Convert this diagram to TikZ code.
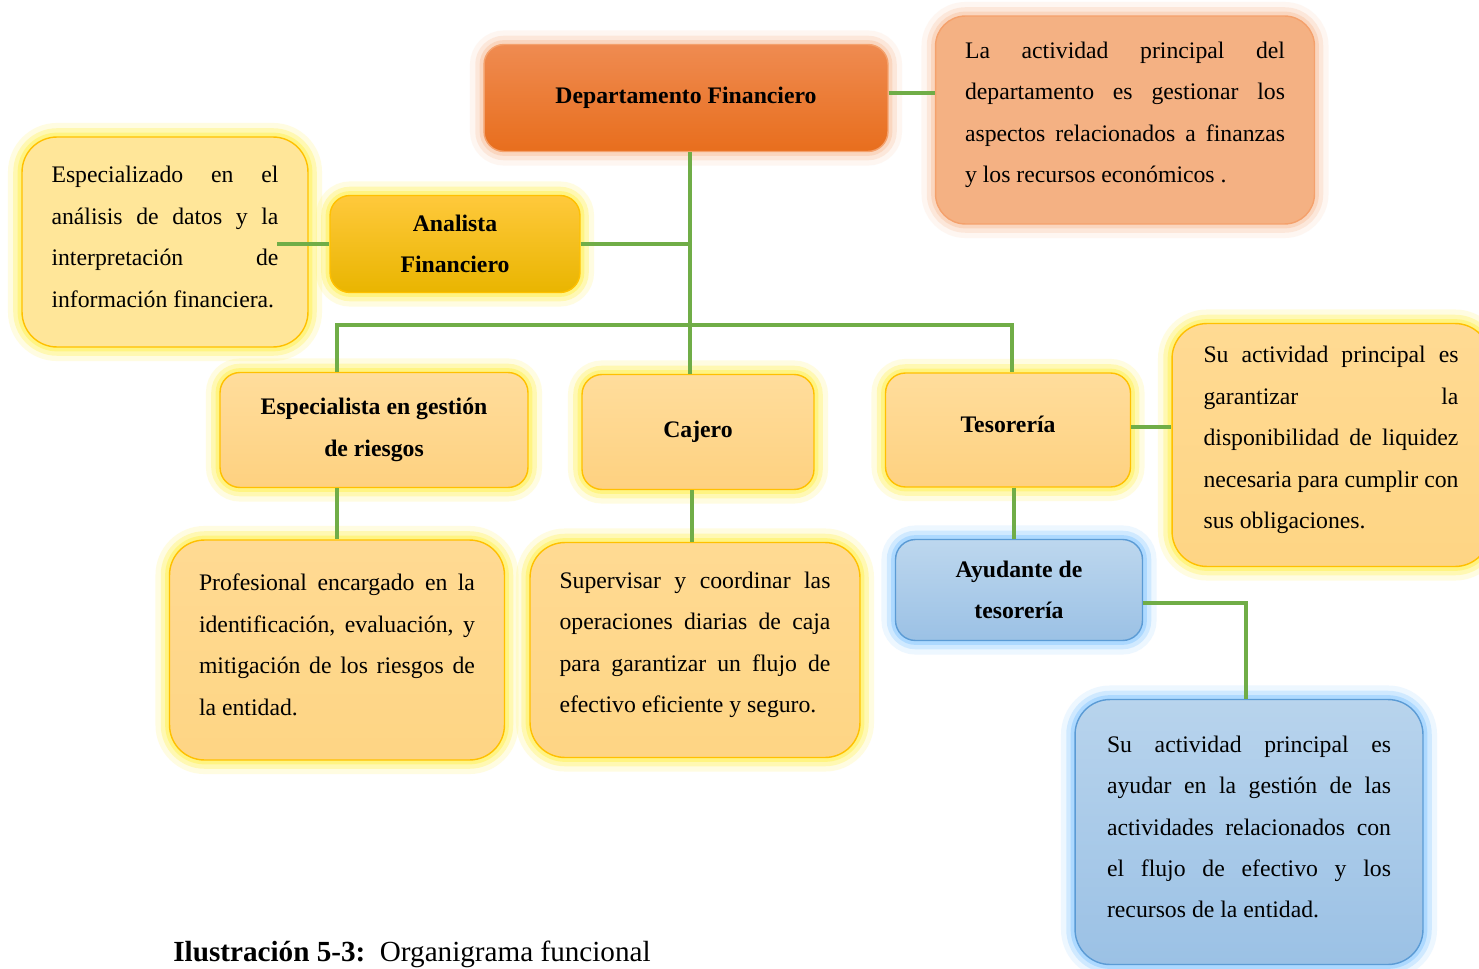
\documentclass[tikz,border=0pt]{standalone}
\usepackage{fontspec}
\setmainfont{Liberation Serif}
\usepackage{tikz}
\usetikzlibrary{positioning}

\newcommand{\letra}{\fontsize{13.5}{23.6}\selectfont}
\newcommand{\finnota}{\par\vspace{0.2cm}}

\definecolor{clrLinea}{HTML}{70AD47}
\definecolor{clrNarArriba}{HTML}{EF8B51}
\definecolor{clrNarAbajo}{HTML}{E86E1D}
\definecolor{clrNarBorde}{HTML}{F4A16C}
\definecolor{clrNarNota}{HTML}{F4B183}
\definecolor{clrNarBrillo}{HTML}{F9C7A6}
\definecolor{clrOroArriba}{HTML}{FFC93C}
\definecolor{clrOroAbajo}{HTML}{E9B500}
\definecolor{clrBorde}{HTML}{FFC000}
\definecolor{clrAmNota}{HTML}{FFE699}
\definecolor{clrAmBrillo}{HTML}{FFF25C}
\definecolor{clrCargoArriba}{HTML}{FFDD9C}
\definecolor{clrCargoAbajo}{HTML}{FED180}
\definecolor{clrNotaArriba}{HTML}{FFDA93}
\definecolor{clrNotaAbajo}{HTML}{FED584}
\definecolor{clrAzArriba}{HTML}{BDD7EE}
\definecolor{clrAzAbajo}{HTML}{9BC1E5}
\definecolor{clrAzBorde}{HTML}{5B9BD5}
\definecolor{clrAzBrillo}{HTML}{8CCBFF}

\tikzstyle{caja}=[rounded corners=0.4cm, inner sep=0pt, line width=0.8pt, font=\letra]
\tikzstyle{titulo}=[caja, align=center, font=\letra\bfseries]
\tikzstyle{nota}=[caja, rounded corners=0.7cm, align=justify, execute at end node=\finnota]
\tikzstyle{linea}=[draw=clrLinea, line width=2.3pt]
\tikzstyle{brillo_am}=[preaction={draw=clrAmBrillo, line width=16pt, draw opacity=.18},
preaction={draw=clrAmBrillo, line width=10pt, draw opacity=.35},
preaction={draw=clrAmBrillo, line width=5pt, draw opacity=.55}]
\tikzstyle{brillo_nar}=[preaction={draw=clrNarBrillo, line width=16pt, draw opacity=.15},
preaction={draw=clrNarBrillo, line width=10pt, draw opacity=.3},
preaction={draw=clrNarBrillo, line width=5pt, draw opacity=.5}]
\tikzstyle{brillo_az}=[preaction={draw=clrAzBrillo, line width=16pt, draw opacity=.15},
preaction={draw=clrAzBrillo, line width=10pt, draw opacity=.3},
preaction={draw=clrAzBrillo, line width=5pt, draw opacity=.5}]
\tikzstyle{cargo}=[titulo, brillo_am, draw=clrBorde, top color=clrCargoArriba, bottom color=clrCargoAbajo, minimum height=2.3cm]
\tikzstyle{nota_am}=[nota, brillo_am, draw=clrBorde, top color=clrNotaArriba, bottom color=clrNotaAbajo]

\begin{document}
\begin{tikzpicture}[x=0.02cm, y=-0.02cm]
		\clip (0,0) rectangle (1479,969);
		\fill[white] (0,0) rectangle (1479,969);

		% jefe del departamento
		\node[titulo, brillo_nar, draw=clrNarBorde, top color=clrNarArriba, bottom color=clrNarAbajo,
			minimum width=8.08cm, minimum height=2.14cm, text depth=0.1cm] (dept) at (686,98) {Departamento Financiero};
		\node[nota, rounded corners=0.6cm, brillo_nar, draw=clrNarBorde, fill=clrNarNota, text width=6.4cm,
			minimum width=7.58cm, minimum height=4.16cm] (deptnota) at (1125,120)
			{La actividad principal del\linebreak departamento es gestionar los\linebreak aspectos relacionados a finanzas\linebreak y los recursos económicos .};

		% analista
		\node[titulo, brillo_am, draw=clrBorde, top color=clrOroArriba, bottom color=clrOroAbajo,
			minimum width=5cm, minimum height=1.94cm] (analista) at (455,244) {Analista\\Financiero};
		\node[nota, brillo_am, draw=clrBorde, fill=clrAmNota, text width=4.54cm,
			minimum width=5.72cm, minimum height=4.2cm] (ananota) at (165,242)
			{Especializado en el\linebreak análisis de datos y la\linebreak interpretación de\linebreak información financiera.};

		% cargos
		\node[cargo, minimum width=6.16cm] (esp) at (374,430) {Especialista en gestión\\de riesgos};
		\node[cargo, minimum width=4.64cm] (cajero) at (698,432) {Cajero};
		\node[cargo, minimum width=4.9cm, minimum height=2.28cm, text depth=0.24cm] (tes) at (1008,430) {Tesorería};

		\node[nota_am, text width=5.52cm, minimum width=6.7cm, minimum height=4.4cm] (espnota) at (337,650)
			{Profesional encargado en la\linebreak identificación, evaluación, y\linebreak mitigación de los riesgos de\linebreak la entidad.};
		\node[nota_am, text width=5.42cm, minimum width=6.6cm, minimum height=4.3cm] (cajnota) at (695,650)
			{Supervisar y coordinar las\linebreak operaciones diarias de caja\linebreak para garantizar un flujo de\linebreak efectivo eficiente y seguro.};
		\node[nota_am, text width=5.1cm, minimum width=6.36cm, minimum height=4.86cm] (tesnota) at (1331,445)
			{Su actividad principal es\linebreak garantizar la\linebreak disponibilidad de liquidez\linebreak necesaria para cumplir con\linebreak sus obligaciones.};

		% ayudante
		\node[titulo, brillo_az, draw=clrAzBorde, top color=clrAzArriba, bottom color=clrAzAbajo,
			minimum width=4.94cm, minimum height=2.02cm] (ayud) at (1019,590) {Ayudante de\\tesorería};
		\node[nota, brillo_az, draw=clrAzBorde, top color=clrAzArriba!85!clrAzAbajo, bottom color=clrAzAbajo,
			text width=5.68cm, minimum width=6.96cm, minimum height=5.3cm] (ayudnota) at (1249,832)
			{Su actividad principal es\linebreak ayudar en la gestión de las\linebreak actividades relacionados con\linebreak el flujo de efectivo y los\linebreak recursos de la entidad.};

		\coordinate (barra) at (690,325);
		\coordinate (anaext) at ([xshift=-0.64cm]ananota.east);

		\draw[linea] ([yshift=0.1cm]dept.east) -- ([yshift=0.1cm]dept.east -| deptnota.west);
		\draw[linea] ([xshift=0.08cm]dept.south) -- ([xshift=0.08cm]dept.south |- cajero.north);
		\draw[linea] (analista.east) -- (analista.east -| barra);
		\draw[linea] (analista.west) -- (analista.west -| anaext);
		\draw[linea] (espnota.north |- esp.north) -- (espnota.north |- barra) -- ([xshift=0.08cm]tes.north |- barra) -- ([xshift=0.08cm]tes.north);
		\draw[linea] (espnota.north |- esp.south) -- (espnota.north);
		\draw[linea] ([xshift=-0.12cm]cajero.south) -- ([xshift=-0.12cm]cajero.south |- cajnota.north);
		\draw[linea] ([yshift=0.06cm]tes.east) -- ([yshift=0.06cm]tes.east -| tesnota.west);
		\draw[linea] ([xshift=0.12cm]tes.south) -- ([xshift=0.12cm]tes.south |- ayud.north);
		\draw[linea] ([yshift=-0.26cm]ayud.east) -| ([xshift=-0.06cm]ayudnota.north);

		\node[anchor=base west, inner sep=0pt, font=\fontsize{16.6}{20}\selectfont] (leyenda) at (173,961)
			{\textbf{Ilustración 5-3:}\hspace{0.5em}Organigrama funcional};

	\end{tikzpicture}
\end{document}
